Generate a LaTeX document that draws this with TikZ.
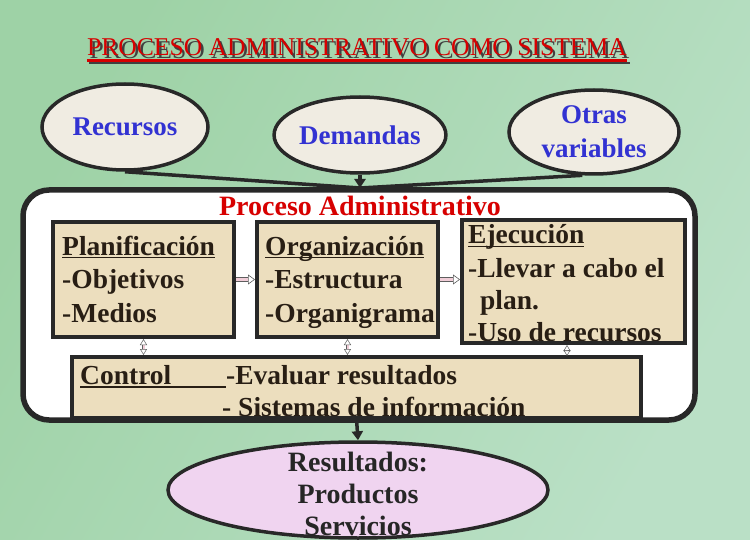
\documentclass[tikz,border=0pt]{standalone}
\usepackage{fontspec}
\setmainfont{Liberation Serif}
\usetikzlibrary{shapes.geometric,arrows.meta}
\definecolor{bgA}{RGB}{158,210,166}
\definecolor{bgB}{RGB}{186,224,198}
\definecolor{cream}{RGB}{240,236,226}
\definecolor{parch}{RGB}{236,222,190}
\definecolor{lilac}{RGB}{240,212,240}
\definecolor{edge}{RGB}{40,40,40}
\definecolor{txt}{RGB}{40,30,20}
\definecolor{bluet}{RGB}{50,50,210}
\definecolor{redt}{RGB}{215,0,0}
\definecolor{pinkarr}{RGB}{240,205,215}
\newcommand{\ulx}[1]{\setbox0\hbox{#1}\rlap{\rule[-3.5pt]{\wd0}{1.8pt}}\box0}
\tikzset{
  ell/.style={ellipse, draw=edge, line width=3.5pt, fill=cream, inner sep=0pt, text=bluet, font=\bfseries\fontsize{27}{34}\selectfont, align=center},
  pbox/.style={rectangle, fill=parch, inner sep=0pt, outer sep=0pt},
  pline/.style={draw=edge, line width=4pt},
  btxt/.style={anchor=base west, inner sep=0pt, text=txt, font=\bfseries\fontsize{27.5}{30}\selectfont},
  conn/.style={draw=edge, line width=3.5pt},
  harr/.style={draw=edge!75, line width=0.6pt, double=pinkarr, double distance=3pt, -{Triangle[open,length=7pt,width=10pt]}},
  varr/.style={draw=edge!75, line width=0.5pt, double=pinkarr, double distance=2pt, {Triangle[open,length=6pt,width=7pt]}-{Triangle[open,length=6pt,width=7pt]}},
}
\begin{document}
\begin{tikzpicture}[x=1pt,y=-1pt]
\useasboundingbox (0,0) rectangle (750,540);
\shade[left color=bgA, right color=bgB, shading angle=60] (0,0) rectangle (750,540);

% title
\node[anchor=base, inner sep=0pt, text=black!75, font=\fontsize{25.6}{27}\selectfont] (tsh) at (359.5,58.5) {PROCESO ADMINISTRATIVO COMO SISTEMA};
\draw[black!75, line width=2.5pt] ([yshift=-4.5pt]tsh.base west) -- ([yshift=-4.5pt]tsh.base east);
\node[anchor=base, inner sep=0pt, text=redt, font=\fontsize{25.6}{27}\selectfont] (title) at (357,56) {PROCESO ADMINISTRATIVO COMO SISTEMA};
\draw[redt, line width=2.5pt] ([yshift=-4.5pt]title.base west) -- ([yshift=-4.5pt]title.base east);

% input ellipses
\node[ell, minimum width=166pt, minimum height=86pt] (rec) at (125,127) {Recursos};
\node[ell, minimum width=170pt, minimum height=76pt] (dem) at (360,135) {Demandas};
\node[ell, minimum width=170pt, minimum height=84pt] (oth) at (594,132) {Otras\\variables};

% system box
\node[rectangle, rounded corners=26pt, draw=edge, line width=5.5pt, fill=white, minimum width=672pt, minimum height=230pt] (sys) at (359,305) {};
\coordinate (join) at (360,188);
\draw[conn] (rec.south) -- (join);
\draw[conn] (oth.255) -- (join);
\draw[conn, -{Triangle[length=9pt,width=11pt]}] (dem.south) -- (join);

\node[inner sep=0pt, text=redt, font=\bfseries\fontsize{28}{30}\selectfont] (pa) at (360,206) {Proceso Administrativo};

% stage boxes (fill)
\node[pbox, minimum width=181pt, minimum height=115pt] (plan) at (143.5,279.5) {};
\node[pbox, minimum width=181pt, minimum height=115pt] (org) at (347.5,279.5) {};
\node[pbox, minimum width=223pt, minimum height=123pt] (eje) at (573.5,281.5) {};
\node[pbox, minimum width=569pt, minimum height=62pt] (ctl) at (356.5,388) {};

% texts
\node[btxt] (t1) at (62,255) {\ulx{Planificación}};
\node[btxt] (t2) at (62,289) {-Objetivos};
\node[btxt] (t3) at (62,322) {-Medios};
\node[btxt] (t4) at (265,255) {\ulx{Organización}};
\node[btxt] (t5) at (265,289) {-Estructura};
\node[btxt] (t6) at (265,322) {-Organigrama};
\node[btxt] (t7) at (468,244) {\ulx{Ejecución}};
\node[btxt] (t8) at (468,277) {-Llevar a cabo el};
\node[btxt] (t9) at (480,309) {plan.};
\node[btxt] (t10) at (468,341) {-Uso de recursos};
\node[btxt] (t11) at (80,384) {\ulx{\makebox[146pt][l]{Control}}};
\node[btxt] (t12) at (226,384) {-Evaluar resultados};
\node[btxt] (t13) at (222,416) {- Sistemas de información};

% borders of stage boxes
\draw[pline] (plan.south west) rectangle (plan.north east);
\draw[pline] (org.south west) rectangle (org.north east);
\draw[pline] (eje.south west) rectangle (eje.north east);
\draw[pline] (ctl.south west) |- (ctl.north east) -- (ctl.south east);
\draw[edge, line width=5.5pt] (ctl.south west) -- (ctl.south east);

% connectors between stages
\draw[harr] ([xshift=2pt]plan.east) -- ([xshift=-2pt]org.west);
\draw[harr] ([xshift=2pt]org.east) -- ([xshift=-2pt]org.east -| eje.west);
\draw[varr] ([yshift=-2pt]plan.south) -- ([yshift=2pt]plan.south |- ctl.north);
\draw[varr] ([yshift=-2pt]org.south) -- ([yshift=2pt]org.south |- ctl.north);
\coordinate (ejb) at (567,343);
\coordinate (ctlt) at (567,358);
\draw[varr] ([yshift=-2pt]ejb) -- ([yshift=2pt]ctlt);

% result
\node[ellipse, draw=edge, line width=3.5pt, fill=lilac, inner sep=0pt, minimum width=380pt, minimum height=96pt] (res) at (358,490) {};
\node[inner sep=0pt, text=black!85, font=\bfseries\fontsize{28}{32}\selectfont, align=center] (rtxt) at (358,494) {Resultados:\\Productos\\Servicios};
\draw[conn, -{Triangle[length=9pt,width=11pt]}] (ctl.south) -- (res.north);
\end{tikzpicture}
\end{document}
